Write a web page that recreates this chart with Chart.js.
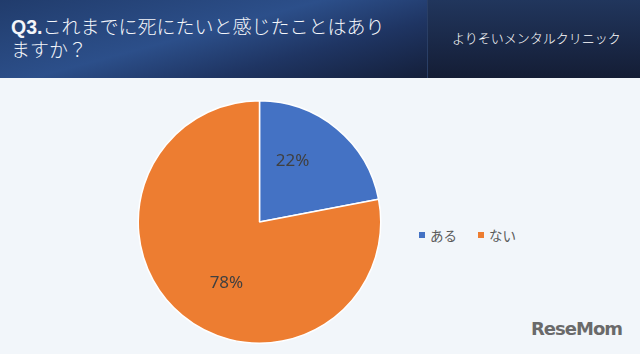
<!DOCTYPE html>
<html>
<head>
<meta charset="utf-8">
<script src="https://cdn.jsdelivr.net/npm/chart.js@4"></script>
<style>
  body{ margin:0; width:640px; height:354px; overflow:hidden; background:#f2f6fa; position:relative;
        font-family:"Noto Sans CJK JP","Noto Sans",sans-serif; }
  .head{ position:absolute; left:0; top:0; width:427px; height:78px;
         background:linear-gradient(165deg,#213c6c 0%,#2c4f8a 45%,#1f3563 70%,#141f3a 100%); }
  .head-right{ position:absolute; left:427px; top:0; width:213px; height:78px;
         background:linear-gradient(180deg,#21365d 0%,#141d35 100%); border-left:1px solid #2a3f66; }
  .title{ position:absolute; left:11px; top:15px; color:#f4f6fa; font-size:19px; line-height:22px; font-weight:300; }
  .title b{ font-family:"Liberation Sans",Arial,sans-serif; font-size:19.5px; font-weight:bold; }
  .clinic{ position:absolute; left:452px; top:28px; color:#fff; font-size:13px; font-weight:300; }
  #wrap{ position:absolute; left:137px; top:100px; width:245px; height:244px; }
  .legend{ position:absolute; left:419px; top:225px; font-size:13.5px; color:#595959; display:flex; }
  .legend span{ display:flex; align-items:center; margin-right:21px; }
  .legend i{ display:inline-block; width:6px; height:6px; margin-right:5px; }
  .logo{ position:absolute; left:531px; top:318px; font-family:"DejaVu Sans",sans-serif; font-weight:bold;
         font-size:18px; color:#6a6a6a; letter-spacing:-1px; }
</style>
</head>
<body>
<div class="head"></div>
<div class="head-right"></div>
<div class="title"><b>Q3.</b>これまでに死にたいと感じたことはあり<br>ますか？</div>
<div class="clinic">よりそいメンタルクリニック</div>
<div id="wrap"><canvas id="pieChart"></canvas></div>
<div class="legend" id="legend"></div>
<div class="logo">ReseMom</div>
<script>
// Data
const labels = ['ある', 'ない'];
const values = [22, 78];
const colors = ['#4472c4', '#ed7d31'];

// Legend
document.getElementById('legend').innerHTML = labels
  .map((l, i) => `<span><i style="background:${colors[i]}"></i>${l}</span>`)
  .join('');

// Percent labels inside slices (placed a bit counter-clockwise of the mid angle, like Excel)
const pctLabels = {
  id: 'pctLabels',
  afterDatasetsDraw(chart){
    const ctx = chart.ctx;
    const meta = chart.getDatasetMeta(0);
    ctx.save();
    ctx.font = '17px "Noto Sans", sans-serif';
    ctx.fillStyle = '#404040';
    ctx.textAlign = 'center';
    ctx.textBaseline = 'middle';
    meta.data.forEach((arc, i) => {
      const mid = (arc.startAngle + arc.endAngle) / 2 - 11 * Math.PI / 180;
      const r = arc.outerRadius * 0.57;
      ctx.fillText(values[i] + '%', arc.x + Math.cos(mid) * r, arc.y + Math.sin(mid) * r);
    });
    ctx.restore();
  }
};

new Chart(document.getElementById('pieChart'), {
  type: 'pie',
  data: {
    labels: labels,
    datasets: [{
      data: values,
      backgroundColor: colors,
      borderColor: '#ffffff',
      borderWidth: 1.5
    }]
  },
  options: {
    responsive: true,
    maintainAspectRatio: false,
    animation: false,
    plugins: { legend: { display: false }, tooltip: { enabled: false } }
  },
  plugins: [pctLabels]
});
</script>
</body>
</html>
